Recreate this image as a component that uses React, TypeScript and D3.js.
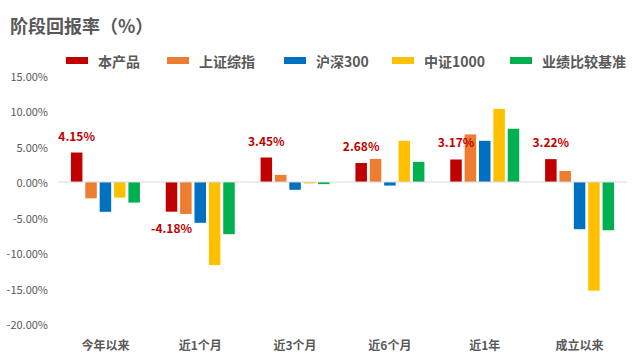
import * as d3 from "d3"

// categories and series
const periods = ["今年以来", "近1个月", "近3个月", "近6个月", "近1年", "成立以来"]
const seriesNames = ["本产品", "上证综指", "沪深300", "中证1000", "业绩比较基准"]
const seriesColors = ["#C00000", "#ED7D31", "#0070C0", "#FFC000", "#00B050"]

const product = [4.15, -4.18, 3.45, 2.68, 3.17, 3.22]
const shIndex = [-2.3, -4.5, 1.0, 3.25, 6.7, 1.55]
const hs300 = [-4.2, -5.75, -1.1, -0.5, 5.8, -6.65]
const zz1000 = [-2.2, -11.7, -0.2, 5.8, 10.3, -15.3]
const benchmark = [-2.9, -7.35, -0.3, 2.83, 7.5, -6.8]

const yTicks = [15, 10, 5, 0, -5, -10, -15, -20]

// legend x positions (layout)
const legendX = [66, 167, 284, 392, 510]

const W = 640
const H = 361
const FONT = '"Noto Sans CJK SC", "Noto Sans", sans-serif'
const GRAY = "#595959"

// plain hyphen for negatives, like the source
const pct = (v: number) => v.toFixed(2) + "%"

export default function App() {
  const series = [product, shIndex, hs300, zz1000, benchmark]

  const y = d3.scaleLinear().domain([-20, 15]).range([324, 75.5])
  const x0 = d3.scaleBand<string>().domain(periods).range([58, 627])
  const x1 = d3
    .scaleBand<string>()
    .domain(seriesNames)
    .range([0, x0.bandwidth()])
    .paddingInner(0.2)
    .paddingOuter(0.9)

  return (
    <svg
      width={W}
      height={H}
      style={{ position: "absolute", left: 0, top: 0, background: "#fff" }}
      fontFamily={FONT}
    >
      <text x={10} y={33} fontSize={18} fontWeight="bold" fill={GRAY}>
        阶段回报率（%）
      </text>

      {/* legend */}
      {seriesNames.map((name, i) => (
        <g key={name} transform={`translate(${legendX[i]},0)`}>
          <rect x={0} y={57} width={22} height={7} fill={seriesColors[i]} />
          <text x={32} y={61} fontSize={14} fontWeight="bold" fill={GRAY} dominantBaseline="central">
            {name}
          </text>
        </g>
      ))}

      {/* y axis labels */}
      {yTicks.map((t) => (
        <text
          key={t}
          x={48}
          y={y(t)}
          fontSize={11}
          fill={GRAY}
          textAnchor="end"
          dominantBaseline="central"
        >
          {pct(t)}
        </text>
      ))}

      {/* bars */}
      {periods.map((p, pi) => (
        <g key={p} transform={`translate(${x0(p)},0)`}>
          {seriesNames.map((s, si) => {
            const v = series[si][pi]
            return (
              <rect
                key={s}
                x={x1(s)}
                y={y(Math.max(0, v))}
                width={x1.bandwidth()}
                height={Math.abs(y(v) - y(0))}
                fill={seriesColors[si]}
              />
            )
          })}
        </g>
      ))}

      {/* zero line */}
      <line x1={58} x2={627} y1={y(0)} y2={y(0)} stroke="#D9D9D9" strokeWidth={1} />

      {/* product value labels */}
      {periods.map((p, pi) => {
        const v = product[pi]
        const cx = (x0(p) ?? 0) + (x1(seriesNames[0]) ?? 0) + x1.bandwidth() / 2
        const ty = v >= 0 ? y(v) - 12 : y(v) + 21
        return (
          <text
            key={p}
            x={cx}
            y={ty}
            fontSize={12}
            fontWeight="bold"
            fill="#C00000"
            textAnchor="middle"
          >
            {pct(v)}
          </text>
        )
      })}

      {/* x axis labels */}
      {periods.map((p) => (
        <text
          key={p}
          x={(x0(p) ?? 0) + x0.bandwidth() / 2}
          y={344}
          fontSize={12}
          fontWeight="bold"
          fill={GRAY}
          textAnchor="middle"
          dominantBaseline="central"
        >
          {p}
        </text>
      ))}
    </svg>
  )
}
